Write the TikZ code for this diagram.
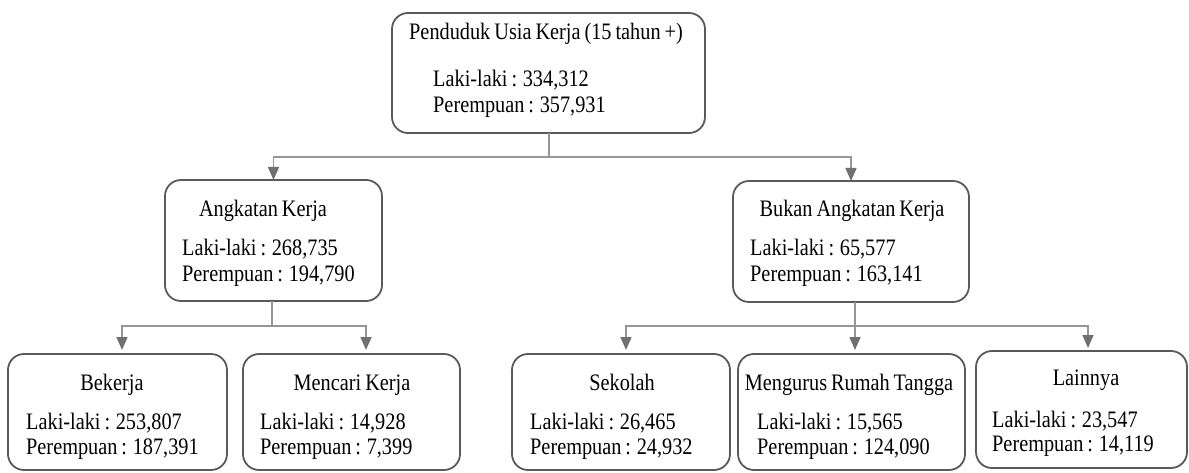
\documentclass[tikz,border=0pt]{standalone}
\usepackage{fontspec}
\setmainfont{Liberation Serif}[FakeStretch=0.86,WordSpace=0.78]
\usepackage{xcolor}
\definecolor{abuTepi}{RGB}{90, 90, 90}
\definecolor{abuGaris}{RGB}{150, 150, 150}
\definecolor{abuPanah}{RGB}{112, 112, 112}
\usetikzlibrary{arrows.meta,positioning}
\tikzstyle{kotak} =[rectangle, draw=abuTepi, rounded corners=16pt,
                    line width=1.8pt, inner sep=0pt, outer sep=0pt]
\tikzstyle{judul} =[anchor=base, inner sep=0pt,
                    font=\fontsize{23.6}{28}\selectfont]
\tikzstyle{isi}   =[anchor=base west, inner sep=0pt,
                    font=\fontsize{23.6}{28}\selectfont]
\tikzstyle{garis} =[draw=abuGaris, line width=1.5pt]
\tikzstyle{panah} =[draw=abuGaris, line width=1.5pt,
                    -{Triangle[length=13pt,width=11pt,color=abuPanah]}]

\begin{document}
\begin{tikzpicture}[x=1pt,y=-1pt]
    \useasboundingbox (0,0) rectangle (1189,473);

    % kotak
    \draw (548.5,73) node (puk) [kotak,minimum width=313pt,minimum height=120pt] {};
    \draw (273.5,240.5) node (ak) [kotak,minimum width=217pt,minimum height=121pt] {};
    \draw (851,241.5) node (bak) [kotak,minimum width=236pt,minimum height=121pt] {};
    \draw (117.5,412) node (bk) [kotak,minimum width=219pt,minimum height=116pt] {};
    \draw (351.5,412) node (mk) [kotak,minimum width=217pt,minimum height=116pt] {};
    \draw (621,412) node (sk) [kotak,minimum width=218pt,minimum height=116pt] {};
    \draw (851.5,412) node (mrt) [kotak,minimum width=227pt,minimum height=116pt] {};
    \draw (1081.5,409.5) node (ln) [kotak,minimum width=211pt,minimum height=117pt] {};

    % teks
    \draw (546,40) node (puk-j) [judul] {Penduduk Usia Kerja (15 tahun +)};
    \draw (433,87) node (puk-l) [isi] {Laki-laki : 334,312};
    \draw (433,113) node (puk-p) [isi] {Perempuan : 357,931};

    \draw (263,217) node (ak-j) [judul] {Angkatan Kerja};
    \draw (182,256) node (ak-l) [isi] {Laki-laki : 268,735};
    \draw (182,281) node (ak-p) [isi] {Perempuan : 194,790};

    \draw (852,217) node (bak-j) [judul] {Bukan Angkatan Kerja};
    \draw (750,255) node (bak-l) [isi] {Laki-laki : 65,577};
    \draw (750,281) node (bak-p) [isi] {Perempuan : 163,141};

    \draw (112,390) node (bk-j) [judul] {Bekerja};
    \draw (26,429) node (bk-l) [isi] {Laki-laki : 253,807};
    \draw (26,454) node (bk-p) [isi] {Perempuan : 187,391};

    \draw (352,390) node (mk-j) [judul] {Mencari Kerja};
    \draw (260,429) node (mk-l) [isi] {Laki-laki : 14,928};
    \draw (260,454) node (mk-p) [isi] {Perempuan : 7,399};

    \draw (622,390) node (sk-j) [judul] {Sekolah};
    \draw (530,429) node (sk-l) [isi] {Laki-laki : 26,465};
    \draw (530,454) node (sk-p) [isi] {Perempuan : 24,932};

    \draw (849,390) node (mrt-j) [judul] {Mengurus Rumah Tangga};
    \draw (757,429) node (mrt-l) [isi] {Laki-laki : 15,565};
    \draw (757,454) node (mrt-p) [isi] {Perempuan : 124,090};

    \draw (1086,385) node (ln-j) [judul] {Lainnya};
    \draw (992,427) node (ln-l) [isi] {Laki-laki : 23,547};
    \draw (992,451) node (ln-p) [isi] {Perempuan : 14,119};

    % titik cabang
    \coordinate (c0) at (549,157);
    \coordinate (c1) at (272,326);
    \coordinate (c2) at (855,326);
    \coordinate (bk-in) at (122,353);
    \coordinate (mk-in) at (366,353);
    \coordinate (sk-in) at (626,353);
    \coordinate (mrt-in) at (855,353);
    \coordinate (ln-in) at (1088,351);

    \draw [garis] (puk.south -| c0) -- (c0);
    \draw [garis] (ak.south -| c1) -- (c1);
    \draw [garis] (bak.south -| c2) -- (c2);

    \foreach \i/\j in {c0/ak,c0/bak}
        \draw [panah] (\i) -| (\j.north);

    \foreach \i/\j in {c1/bk-in,c1/mk-in,c2/sk-in,c2/mrt-in,c2/ln-in}
        \draw [panah,shorten >=3pt] (\i) -| (\j);

\end{tikzpicture}
\end{document}
